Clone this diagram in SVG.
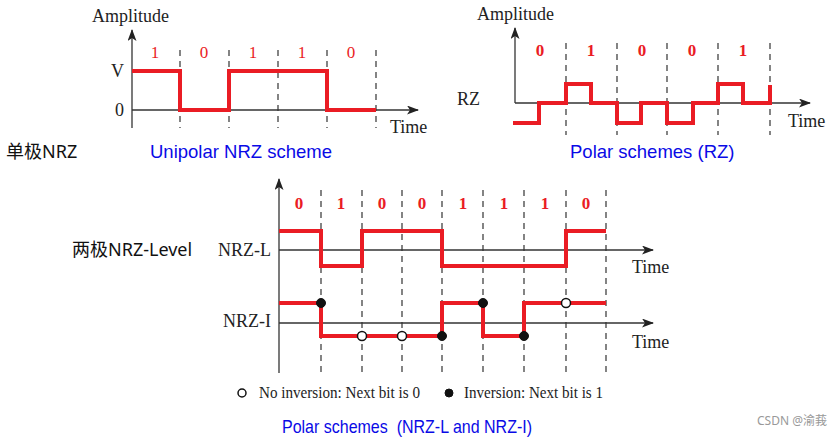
<svg xmlns="http://www.w3.org/2000/svg" width="840" height="437" viewBox="0 0 840 437">
<defs>
<marker id="arr" markerUnits="userSpaceOnUse" markerWidth="14" markerHeight="10" refX="11" refY="4.5" orient="auto">
<path d="M0,0 L12,4.5 L0,9 L3,4.5 z" fill="#222"/>
</marker>
<style>
.ax{stroke:#333;stroke-width:1.3;fill:none}
.dash{stroke:#333;stroke-width:1.2;stroke-dasharray:6,5;fill:none}
.sig{stroke:#ea1c24;stroke-width:4;fill:none;stroke-linejoin:miter}
.lbl{font-family:"Liberation Serif","Times New Roman",serif;font-size:18px;fill:#222}
.bit{font-family:"Liberation Serif","Times New Roman",serif;font-size:17px;fill:#ea1c24;text-anchor:middle}
.bitb{font-family:"Liberation Serif","Times New Roman",serif;font-size:17px;fill:#ea1c24;text-anchor:middle;font-weight:bold}
.cap{font-family:"Liberation Sans",Arial,sans-serif;font-size:18.5px;fill:#0a0ae6}
.cn{font-family:"Noto Sans","Noto Sans CJK SC",sans-serif;font-size:18px;fill:#111}
.leg{font-family:"Liberation Serif","Times New Roman",serif;font-size:17px;fill:#222}
.dotf{fill:#111;stroke:#111;stroke-width:1}
.doto{fill:#fff;stroke:#111;stroke-width:1.5}
</style>
</defs>
<rect width="840" height="437" fill="#fff"/>

<g id="unipolar">
<g id="unipolar-axes">
<line class="ax" x1="132" y1="128" x2="132" y2="30" marker-end="url(#arr)"/>
<line class="ax" x1="132" y1="110" x2="418" y2="110" marker-end="url(#arr)"/>
</g>
<g id="unipolar-grid">
<line class="dash" x1="180" y1="50" x2="180" y2="128"/>
<line class="dash" x1="229" y1="50" x2="229" y2="128"/>
<line class="dash" x1="278" y1="50" x2="278" y2="128"/>
<line class="dash" x1="327" y1="50" x2="327" y2="128"/>
<line class="dash" x1="376" y1="50" x2="376" y2="128"/>
</g>
<polyline class="sig" points="132,71 180,71 180,110 229,110 229,71 327,71 327,110 376,110"/>
<text class="lbl" x="92" y="22">Amplitude</text>
<text class="lbl" x="124" y="77" text-anchor="end">V</text>
<text class="lbl" x="124" y="116" text-anchor="end">0</text>
<text class="lbl" x="390" y="133">Time</text>
<text class="bit" x="155" y="58">1</text>
<text class="bit" x="204" y="58">0</text>
<text class="bit" x="253" y="58">1</text>
<text class="bit" x="302" y="58">1</text>
<text class="bit" x="351" y="58">0</text>
<text class="cn" x="6" y="158">单极NRZ</text>
<text class="cap" x="150" y="158">Unipolar NRZ scheme</text>
</g>

<g id="rz">
<g id="rz-axes">
<line class="ax" x1="515" y1="103" x2="515" y2="28" marker-end="url(#arr)"/>
<line class="ax" x1="515" y1="103" x2="810" y2="103" marker-end="url(#arr)"/>
</g>
<g id="rz-grid">
<line class="dash" x1="566" y1="43" x2="566" y2="135"/>
<line class="dash" x1="617" y1="43" x2="617" y2="135"/>
<line class="dash" x1="667" y1="43" x2="667" y2="135"/>
<line class="dash" x1="718" y1="43" x2="718" y2="135"/>
<line class="dash" x1="770" y1="43" x2="770" y2="135"/>
</g>
<polyline class="sig" points="513,123 539,123 539,103 566,103 566,84 591,84 591,103 617,103 617,123 641,123 641,103 667,103 667,123 693,123 693,103 718,103 718,84 743,84 743,103 770,103 770,85"/>
<text class="lbl" x="477" y="20">Amplitude</text>
<text class="lbl" x="457" y="105">RZ</text>
<text class="lbl" x="788" y="127">Time</text>
<text class="bitb" x="540" y="56">0</text>
<text class="bitb" x="591" y="56">1</text>
<text class="bitb" x="642" y="56">0</text>
<text class="bitb" x="692" y="56">0</text>
<text class="bitb" x="743" y="56">1</text>
<text class="cap" x="570" y="158">Polar schemes (RZ)</text>
</g>

<g id="nrz">
<g id="nrz-axes">
<line class="ax" x1="279" y1="373" x2="279" y2="179" marker-end="url(#arr)"/>
<line class="ax" x1="279" y1="250" x2="653" y2="250" marker-end="url(#arr)"/>
<line class="ax" x1="279" y1="323" x2="653" y2="323" marker-end="url(#arr)"/>
</g>
<g id="nrz-grid">
<line class="dash" x1="321" y1="190" x2="321" y2="373"/>
<line class="dash" x1="362" y1="190" x2="362" y2="373"/>
<line class="dash" x1="402" y1="190" x2="402" y2="373"/>
<line class="dash" x1="442" y1="190" x2="442" y2="373"/>
<line class="dash" x1="483" y1="190" x2="483" y2="373"/>
<line class="dash" x1="524" y1="190" x2="524" y2="373"/>
<line class="dash" x1="566" y1="190" x2="566" y2="373"/>
<line class="dash" x1="606" y1="190" x2="606" y2="373"/>
</g>
<text class="bitb" x="299" y="209">0</text>
<text class="bitb" x="341" y="209">1</text>
<text class="bitb" x="382" y="209">0</text>
<text class="bitb" x="422" y="209">0</text>
<text class="bitb" x="463" y="209">1</text>
<text class="bitb" x="504" y="209">1</text>
<text class="bitb" x="545" y="209">1</text>
<text class="bitb" x="586" y="209">0</text>
<g id="nrz-l">
<polyline class="sig" points="279,231 321,231 321,266 362,266 362,231 442,231 442,266 566,266 566,231 606,231"/>
<text class="lbl" x="271" y="256" text-anchor="end">NRZ-L</text>
<text class="lbl" x="632" y="273">Time</text>
</g>
<g id="nrz-i">
<polyline class="sig" points="279,303 321,303 321,336 442,336 442,303 483,303 483,336 524,336 524,303 606,303"/>
<circle class="dotf" cx="321" cy="303" r="4.5"/>
<circle class="dotf" cx="442" cy="336" r="4.5"/>
<circle class="dotf" cx="483" cy="303" r="4.5"/>
<circle class="dotf" cx="524" cy="336" r="4.5"/>
<circle class="doto" cx="362" cy="336" r="4.5"/>
<circle class="doto" cx="402" cy="336" r="4.5"/>
<circle class="doto" cx="566" cy="303" r="4.5"/>
<text class="lbl" x="271" y="327" text-anchor="end">NRZ-I</text>
<text class="lbl" x="632" y="348">Time</text>
</g>
<text class="cn" x="72" y="256">两极NRZ-Level</text>
<g id="legend">
<circle class="doto" cx="242" cy="393" r="4"/>
<text class="leg" x="259" y="398" textLength="161" lengthAdjust="spacingAndGlyphs">No inversion: Next bit is 0</text>
<circle class="dotf" cx="449" cy="393" r="4"/>
<text class="leg" x="464" y="398" textLength="139" lengthAdjust="spacingAndGlyphs">Inversion: Next bit is 1</text>
</g>
<text class="cap" x="282" y="433" textLength="250" lengthAdjust="spacingAndGlyphs" xml:space="preserve">Polar schemes  (NRZ-L and NRZ-I)</text>
</g>
<text x="757" y="425" font-family="'Noto Sans','Noto Sans CJK SC',sans-serif" font-size="12" fill="#999">CSDN @渝莪</text>
</svg>
